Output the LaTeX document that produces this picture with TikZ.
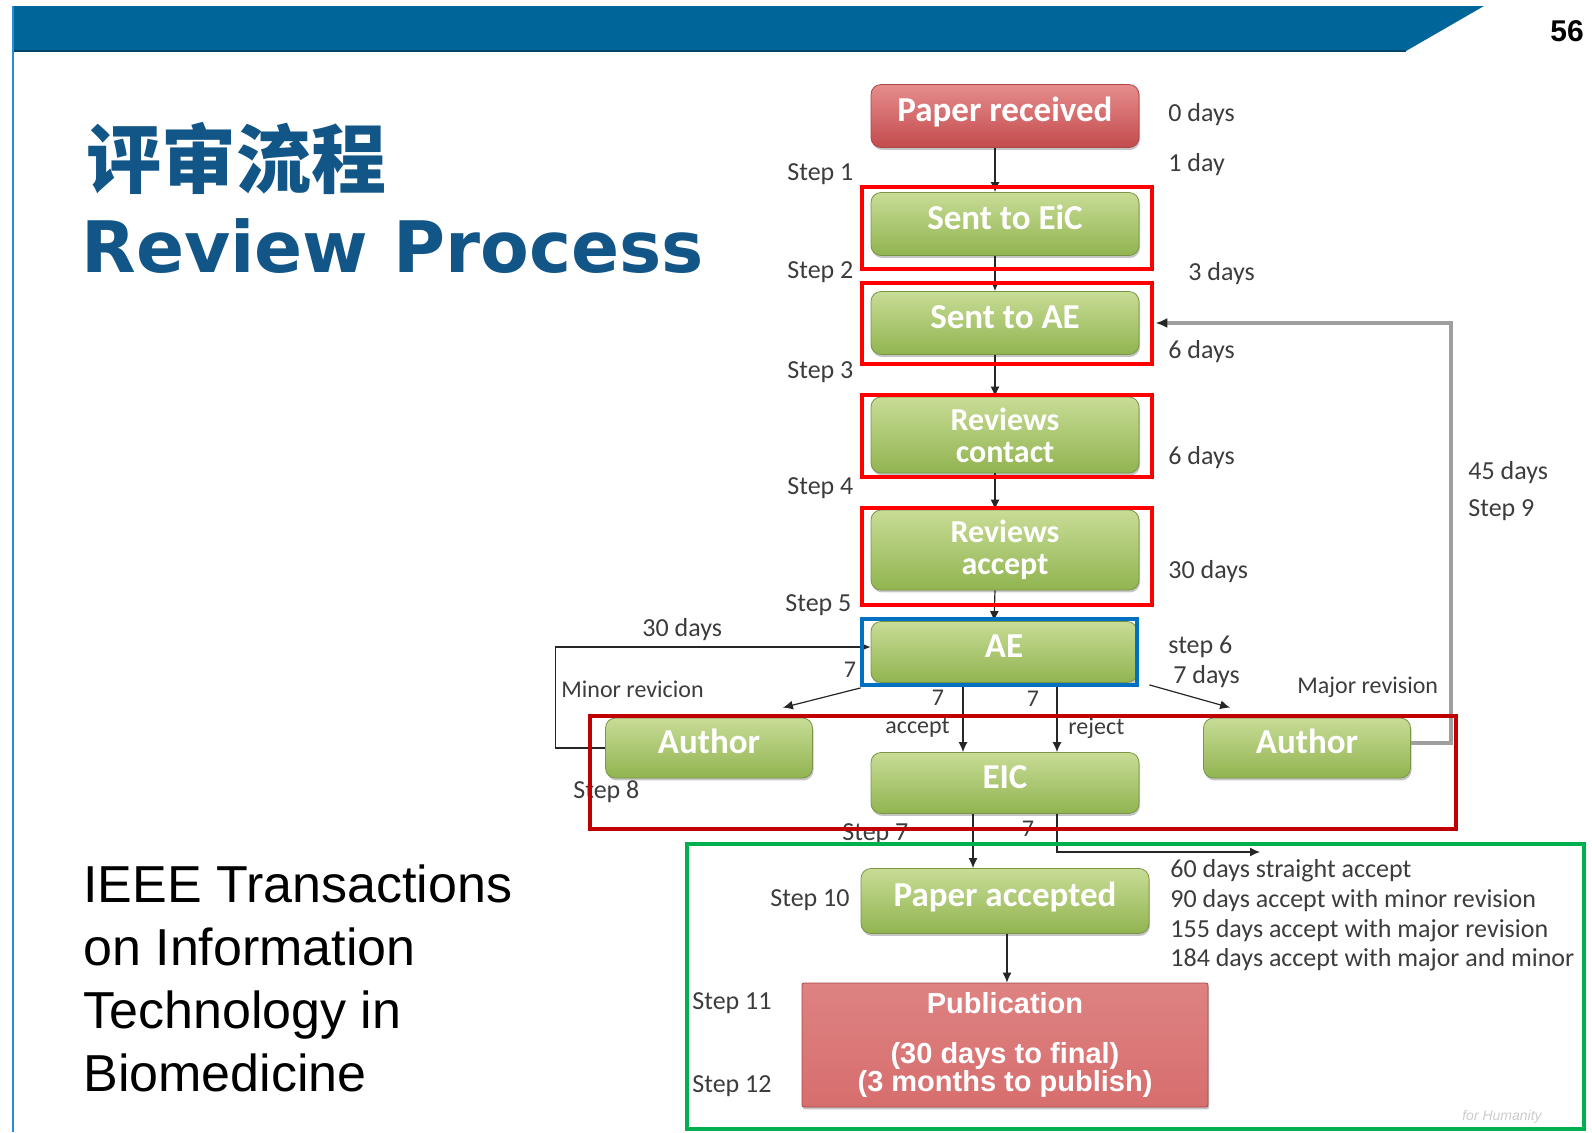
\documentclass[tikz,border=0pt]{standalone}
\usepackage{fontspec}
\setmainfont{Carlito}
\newfontfamily\cjkfont{Noto Sans CJK SC}
\newfontfamily\headfont{DejaVu Sans}
\newfontfamily\arialfont{Liberation Sans}
\usetikzlibrary{arrows.meta, shadows}
\usepackage{xcolor}
\definecolor{bandblue}{RGB}{0,102,153}
\definecolor{titleblue}{RGB}{18,85,135}
\definecolor{sideblue}{RGB}{40,140,220}
\definecolor{labelgray}{RGB}{60,60,60}
\definecolor{greentop}{RGB}{200,220,150}
\definecolor{greenbot}{RGB}{145,180,80}
\definecolor{greenedge}{RGB}{120,150,70}
\definecolor{redtop}{RGB}{230,140,140}
\definecolor{redbot}{RGB}{195,75,78}
\definecolor{rededge}{RGB}{170,70,70}
\definecolor{pubtop}{RGB}{222,130,130}
\definecolor{pubmid}{RGB}{200,70,72}
\definecolor{pubbot}{RGB}{215,110,110}
\definecolor{hired}{RGB}{255,0,0}
\definecolor{hiblue}{RGB}{0,112,192}
\definecolor{hidark}{RGB}{192,0,0}
\definecolor{higreen}{RGB}{0,176,80}

\begin{document}
\begin{tikzpicture}[
  x=0.5pt, y=-0.5pt,
  font=\fontsize{13}{15}\selectfont,
  >={Latex[length=5pt,width=4.5pt]},
  box/.style={
    rectangle, rounded corners=5pt, minimum width=134pt, minimum height=31.5pt,
    align=center, inner sep=2pt, text=white, text height=12pt, text depth=7pt,
    font=\bfseries\fontsize{17.5}{15.5}\selectfont,
    drop shadow={shadow xshift=0.5pt, shadow yshift=-1.2pt, fill=black!45}
  },
  greenbox/.style={box, top color=greentop, bottom color=greenbot, draw=greenedge, line width=0.4pt},
  redbox/.style={box, top color=redtop, bottom color=redbot, draw=rededge, line width=0.4pt},
  twoline/.style={text height=, text depth=, font=\bfseries\fontsize{16}{16}\selectfont},
  pubbox/.style={
    rectangle, rounded corners=1pt, minimum width=203pt, minimum height=62pt,
    align=center, text=white, font=\arialfont\bfseries\fontsize{14.5}{14}\selectfont,
    top color=pubtop, middle color=pubmid, bottom color=pubbot, draw=rededge,
    drop shadow={shadow xshift=0.5pt, shadow yshift=-1.2pt, fill=black!45}
  },
  arrow/.style={->, line width=0.6pt, draw=black!85},
  looparrow/.style={-{Latex[length=6pt,width=5pt,black!85]}, line width=1.8pt, draw=gray!75},
  lbl/.style={anchor=west, inner sep=0pt, text=labelgray},
  smalllbl/.style={lbl, font=\fontsize{12}{14}\selectfont},
  numlbl/.style={inner sep=0pt, text=labelgray, font=\fontsize{12}{14}\selectfont},
  hlred/.style={draw=hired, line width=2pt},
  hlblue/.style={draw=hiblue, line width=2pt},
  hldark/.style={draw=hidark, line width=2pt},
  hlgreen/.style={draw=higreen, line width=2pt}
]
\useasboundingbox (0,0) rectangle (1592,1132);

% Slide frame
\fill[bandblue] (14,6) -- (1484,6) -- (1406,51) -- (14,51) -- cycle;
\draw[bandblue!70!black, line width=1pt] (14,51) -- (1406,51);
\draw[sideblue, line width=1.2pt] (13,6) -- (13,1132);
\node[font=\arialfont\bfseries\fontsize{15}{18}\selectfont] (pagenum) at (1567,31) {56};

% Titles
\node[anchor=west, inner sep=0pt, text=titleblue, font=\cjkfont\bfseries\fontsize{37.5}{40}\selectfont] (titlecn) at (86,158) {评审流程};
\node[anchor=base west, inner sep=0pt, text=titleblue, font=\headfont\bfseries\fontsize{35.5}{40}\selectfont] (titleen) at (81,272) {Review Process};
\node[anchor=north west, inner sep=0pt, align=left, font=\arialfont\fontsize{26}{31.5}\selectfont] (journal) at (83,864) {IEEE Transactions\\on Information\\Technology in\\Biomedicine};

% Process boxes
\node[redbox] (recv) at (1005,116) {Paper received};
\node[greenbox] (eic1) at (1005,224) {Sent to EiC};
\node[greenbox] (toae) at (1005,323) {Sent to AE};
\node[greenbox, twoline, minimum height=38pt] (rcont) at (1005,435) {Reviews\\contact};
\node[greenbox, twoline, minimum height=40pt] (racc) at (1005,550) {Reviews\\accept};
\node[greenbox, minimum width=133pt, minimum height=30.5pt] (ae) at (1004,652) {AE};
\node[greenbox, minimum width=103.5pt, minimum height=30pt] (authl) at (709,748) {Author};
\node[greenbox, minimum height=30.5pt] (eic) at (1005,783) {EIC};
\node[greenbox, minimum width=103.5pt, minimum height=30pt] (authr) at (1307,748) {Author};
\node[greenbox, minimum width=144pt, minimum height=32.5pt] (acc) at (1005,901) {Paper accepted};
\node[pubbox] (pub) at (1005,1045) {Publication\\[11pt](30 days to final)\\(3 months to publish)};
\coordinate (accout) at (1260,852);

% Step and time labels
\node[lbl] (s1) at (787,174) {Step 1};
\node[lbl] (s2) at (787,272) {Step 2};
\node[lbl] (s3) at (787,372) {Step 3};
\node[lbl] (s4) at (787,488) {Step 4};
\node[lbl] (s5) at (785,605) {Step 5};
\node[lbl] (s6) at (1168,647) {step 6};
\node[lbl] (s7) at (842,834) {Step 7};
\node[lbl] (s8) at (573,792) {Step 8};
\node[lbl] (s9) at (1468,510) {Step 9};
\node[lbl] (s10) at (770,900) {Step 10};
\node[lbl] (s11) at (692,1003) {Step 11};
\node[lbl] (s12) at (692,1086) {Step 12};
\node[lbl] (d0) at (1168,115) {0 days};
\node[lbl] (d1) at (1168,165) {1 day};
\node[lbl] (d3) at (1188,274) {3 days};
\node[lbl] (d6a) at (1168,352) {6 days};
\node[lbl] (d6b) at (1168,458) {6 days};
\node[lbl] (d30) at (1168,572) {30 days};
\node[lbl] (d45) at (1468,473) {45 days};
\node[lbl] (d30b) at (642,630) {30 days};
\node[lbl] (d7) at (1173,677) {7 days};
\node[smalllbl] (minor) at (561,689) {Minor revicion};
\node[smalllbl] (major) at (1297,687) {Major revision};
\node[smalllbl] (acctxt) at (885,728) {accept};
\node[smalllbl] (rejtxt) at (1068,728) {reject};
\node[numlbl] (n1) at (850,670) {7};
\node[numlbl] (n2) at (938,698) {7};
\node[numlbl] (n3) at (1033,699) {7};
\node[numlbl] (n4) at (1028,829) {7};
\node[lbl] (r1) at (1170,871) {60 days straight accept};
\node[lbl] (r2) at (1170,901) {90 days accept with minor revision};
\node[lbl] (r3) at (1170,931) {155 days accept with major revision};
\node[lbl] (r4) at (1170,960) {184 days accept with major and minor};
\node[anchor=center, text=gray!40, font=\arialfont\itshape\fontsize{7}{8}\selectfont] (slogan) at (1502,1117) {for Humanity};

% Arrows
\draw[arrow] ([xshift=-5pt]recv.south) -- ([xshift=-5pt]eic1.north);
\draw[arrow] ([xshift=-5pt]eic1.south) -- ([xshift=-5pt]toae.north);
\draw[arrow] ([xshift=-5pt]toae.south) -- ([xshift=-5pt]rcont.north);
\draw[arrow] ([xshift=-5pt]rcont.south) -- ([xshift=-5pt]racc.north);
\draw[arrow] ([xshift=-5pt]racc.south) -- ([xshift=-5pt]ae.north);
\draw[arrow] ([xshift=-5pt,yshift=-2.5pt]ae.south west) -- ([xshift=-15pt,yshift=5pt]authl.north east);
\draw[arrow] ([xshift=6pt,yshift=-1pt]ae.south east) -- ([xshift=13.5pt,yshift=5pt]authr.north west);
\draw[arrow] ([xshift=-20.5pt]ae.south) -- ([xshift=-21pt]eic.north);
\draw[arrow] ([xshift=26.5pt]ae.south) -- ([xshift=26pt]eic.north);
\draw[arrow] (authl.west) -- ++(-25pt,0) |- ([yshift=2.5pt]ae.west);
\draw[looparrow] ([yshift=2.5pt]authr.east) -- ++(20pt,0) |- ([xshift=8pt]toae.east);
\draw[arrow] ([xshift=-16pt]eic.south) -- ([xshift=-16pt]acc.north);
\draw[arrow] ([xshift=26pt]eic.south) |- (accout);
\draw[arrow] ([xshift=1pt]acc.south) -- ([xshift=1pt]pub.north);

% Highlight frames
\draw[hlred] (862,187) rectangle (1152,269);
\draw[hlred] (862,283) rectangle (1152,364);
\draw[hlred] (862,395) rectangle (1152,477);
\draw[hlred] (862,508) rectangle (1152,605);
\draw[hlblue] (862,619) rectangle (1137,685);
\draw[hldark] (590,716) rectangle (1456,829);
\draw[hlgreen] (687,844) rectangle (1584,1129);

\end{tikzpicture}
\end{document}
